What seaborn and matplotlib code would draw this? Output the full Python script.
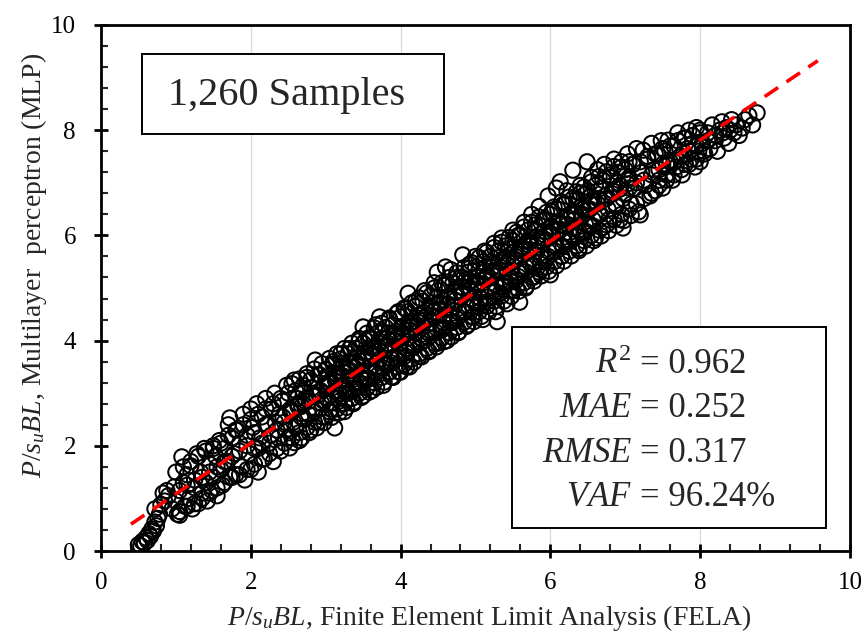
import matplotlib
matplotlib.use("Agg")
import matplotlib.pyplot as plt
import seaborn as sns
import pandas as pd
from matplotlib.patches import Rectangle
from matplotlib.ticker import MultipleLocator

# ---------------- data ----------------
# (FELA, MLP) pairs, grouped by FELA range
seg_hook = [(0.50,0.12),(0.53,0.10),(0.55,0.18),(0.58,0.15),(0.60,0.25),(0.62,0.20),(0.64,0.33),
            (0.66,0.28),(0.68,0.42),(0.70,0.38),(0.72,0.55),(0.74,0.48),(0.76,0.62),(0.78,0.70),
            (0.72,0.80),(0.80,0.88),(0.83,1.10),(0.85,0.95),(0.88,1.15),(0.90,1.05)]
seg_1 = [(0.95,0.80),(0.98,1.22),(1.00,0.95),(1.02,0.70),(1.05,0.68),(1.08,1.79),(1.10,1.30),
         (1.12,0.85),(1.15,1.45),(1.18,1.00),(1.20,1.62),(1.22,0.80),(1.25,1.20),(1.28,1.85),
         (1.30,0.90),(1.33,1.50),(1.35,1.10),(1.38,1.95),(1.40,1.30),(1.42,0.95),(1.45,1.65),
         (1.48,1.15),(1.50,2.00),(1.50,1.40)]
seg_1h = [(1.53,1.80),(1.55,1.05),(1.58,2.10),(1.60,1.55),(1.62,1.25),(1.65,1.95),(1.68,1.70),
          (1.70,2.40),(1.72,2.53),(1.72,1.40),(1.75,2.15),(1.78,1.85),(1.80,1.45),(1.82,2.30),
          (1.85,2.05),(1.88,1.60),(1.90,2.60),(1.92,1.35),(1.95,2.20),(1.98,1.85),(2.00,2.70),
          (2.00,1.55)]
seg_2 = [(2.03,2.35),(2.05,1.95),(2.08,2.80),(2.10,1.50),(2.12,2.15),(2.15,2.55),(2.18,1.75),
         (2.20,2.90),(2.22,2.40),(2.25,2.05),(2.28,2.70),(2.30,1.70),(2.32,3.00),(2.35,2.30),
         (2.38,2.60),(2.40,1.90),(2.42,2.85),(2.45,2.45),(2.48,3.15),(2.50,2.15),(2.52,1.96),
         (2.55,2.65)]
seg_2h = [(2.58,3.25),(2.60,2.35),(2.62,2.90),(2.65,2.10),(2.68,2.75),(2.70,3.05),(2.72,2.50),
          (2.75,3.30),(2.78,2.85),(2.80,2.30),(2.82,3.10),(2.85,2.65),(2.86,3.63),(2.88,2.95),
          (2.90,2.45),(2.92,3.35),(2.95,2.80),(2.98,3.15),(3.00,2.55),(3.00,3.45)]
seg_3 = [(3.02,2.90),(3.05,3.20),(3.08,2.70),(3.10,3.60),(3.12,2.34),(3.13,3.05),(3.15,3.35),
         (3.18,2.85),(3.20,3.75),(3.22,3.15),(3.25,2.65),(3.27,3.50),(3.30,3.00),(3.32,3.85),
         (3.35,3.30),(3.37,2.80),(3.40,3.60),(3.42,3.10),(3.45,4.00),(3.47,3.40),(3.50,4.26),
         (3.50,2.95)]
seg_3h = [(3.52,3.70),(3.55,3.25),(3.57,4.05),(3.60,3.50),(3.62,3.05),(3.65,3.85),(3.67,4.30),
          (3.70,3.35),(3.72,3.65),(3.75,4.15),(3.77,3.15),(3.80,3.90),(3.82,3.55),(3.85,4.40),
          (3.87,3.80),(3.90,3.30),(3.92,4.10),(3.95,3.65),(3.97,4.55),(4.00,3.95),(4.00,3.40),
          (3.72,4.45)]
seg_4 = [(4.02,4.25),(4.05,3.70),(4.07,4.60),(4.10,4.05),(4.12,3.50),(4.15,4.35),(4.17,3.90),
         (4.20,4.75),(4.22,4.15),(4.25,3.70),(4.27,4.50),(4.30,4.00),(4.32,4.95),(4.35,4.30),
         (4.37,3.80),(4.40,4.65),(4.42,4.15),(4.45,5.10),(4.47,4.45),(4.49,5.30),(4.50,3.95),
         (4.10,4.90)]
seg_4h = [(4.52,4.70),(4.55,4.20),(4.57,5.05),(4.60,4.50),(4.62,4.00),(4.65,4.85),(4.67,5.35),
          (4.70,4.35),(4.72,4.65),(4.75,5.20),(4.77,4.15),(4.80,4.95),(4.83,5.63),(4.85,4.55),
          (4.87,5.15),(4.90,4.30),(4.92,5.45),(4.95,4.80),(4.97,4.45),(5.00,5.10),(5.00,5.60),
          (4.60,5.40)]
seg_5 = [(5.02,4.65),(5.05,5.35),(5.07,4.95),(5.10,4.40),(5.12,5.70),(5.15,5.20),(5.17,4.75),
         (5.20,5.50),(5.22,5.00),(5.25,5.85),(5.27,4.55),(5.29,4.36),(5.30,5.30),(5.33,4.90),
         (5.35,5.95),(5.37,5.55),(5.40,5.10),(5.42,4.70),(5.45,5.75),(5.47,5.30),(5.50,6.10),
         (5.50,4.95)]
seg_5h = [(5.52,5.55),(5.55,5.15),(5.57,6.00),(5.59,4.73),(5.60,5.75),(5.62,5.35),(5.65,6.25),
          (5.67,5.00),(5.70,5.90),(5.72,5.50),(5.75,6.40),(5.77,5.20),(5.80,6.10),(5.82,5.70),
          (5.85,6.55),(5.87,5.35),(5.90,5.95),(5.92,6.30),(5.95,5.55),(5.97,6.75),(6.00,6.15),
          (6.00,5.25)]
seg_6 = [(6.02,6.45),(6.05,5.80),(6.08,6.90),(6.10,6.25),(6.13,7.02),(6.15,5.60),(6.18,6.60),
         (6.20,6.05),(6.22,6.85),(6.25,5.90),(6.28,6.40),(6.30,7.24),(6.32,6.15),(6.35,6.70),
         (6.38,5.75),(6.40,6.95),(6.42,6.35),(6.45,6.05),(6.47,6.80),(6.49,7.40),(6.50,6.50)]
seg_6h = [(6.53,6.20),(6.55,7.10),(6.58,6.65),(6.60,5.95),(6.63,7.25),(6.65,6.40),(6.68,6.90),
          (6.70,6.15),(6.72,7.35),(6.75,6.70),(6.78,6.30),(6.80,7.15),(6.83,6.85),(6.85,7.45),
          (6.88,6.55),(6.90,7.00),(6.93,6.30),(6.95,7.30),(6.97,6.14),(7.00,6.80)]
seg_7 = [(7.03,7.55),(7.05,7.10),(7.08,6.60),(7.10,7.35),(7.13,6.90),(7.15,7.65),(7.18,6.45),
         (7.20,6.39),(7.22,7.20),(7.24,7.62),(7.27,6.95),(7.30,7.45),(7.33,6.75),(7.35,7.75),
         (7.38,7.25),(7.40,6.85),(7.43,7.55),(7.45,7.05),(7.48,7.80),(7.50,6.90),(7.50,7.35)]
seg_7h = [(7.53,7.60),(7.55,7.15),(7.57,7.81),(7.60,7.40),(7.63,7.05),(7.65,7.70),(7.68,7.30),
          (7.70,7.95),(7.73,7.50),(7.76,7.15),(7.78,7.85),(7.80,7.35),(7.83,7.65),(7.85,8.00),
          (7.88,7.45),(7.90,7.75),(7.93,7.30),(7.95,8.05),(7.98,7.60),(8.00,8.00),(8.00,7.40)]
seg_8 = [(8.03,7.75),(8.06,7.55),(8.10,7.95),(8.13,7.65),(8.16,8.10),(8.20,7.80),(8.23,7.60),
         (8.26,8.00),(8.29,8.16),(8.32,7.85),(8.35,8.05),(8.38,7.75),(8.42,8.20),(8.45,7.95),
         (8.48,8.10),(8.52,7.90),(8.56,8.04),(8.60,8.20),(8.65,8.28),(8.70,8.10),(8.76,8.33)]
seg_core = [(2.05,2.25),(2.10,1.95),(2.15,2.05),(2.20,2.40),(2.27,2.20),(2.33,2.45),(2.37,2.15),
            (2.43,2.55),(2.47,2.30),(2.53,2.70),(2.57,2.45),(2.63,2.80),(2.67,2.55),(2.73,2.90),
            (2.77,2.60),(2.83,3.00),(2.87,2.70),(2.93,3.05),(2.97,2.85),(3.03,3.20),(3.07,2.95),
            (3.13,3.30),(3.17,3.00),(3.23,3.40),(3.27,3.10),(3.33,3.50),(3.37,3.20),(3.43,3.55),
            (3.47,3.30),(3.53,3.65),(3.57,3.40),(3.63,3.75),(3.67,3.50),(3.73,3.85),(3.77,3.60),
            (3.83,3.95),(3.87,3.65),(3.93,4.05),(3.97,3.75),(4.03,4.15),(4.07,3.85),(4.13,4.25),
            (4.17,3.95),(4.23,4.35),(4.27,4.05),(4.33,4.45),(4.37,4.15),(4.43,4.55),(4.47,4.25),
            (4.53,4.60),(4.57,4.35),(4.63,4.70),(4.67,4.45),(4.73,4.85),(4.77,4.55),(4.83,4.90),
            (4.87,4.65),(4.93,5.00),(4.97,4.75),(5.03,5.10),(5.07,4.80),(5.13,5.20),(5.17,4.95),
            (5.23,5.30),(5.27,5.05),(5.33,5.40),(5.37,5.10),(5.43,5.50),(5.47,5.20),(5.53,5.60),
            (5.57,5.30),(5.63,5.70),(5.67,5.40),(5.73,5.80),(5.77,5.50),(5.83,5.90),(5.87,5.60),
            (5.93,6.00),(5.97,5.70),(6.03,6.10),(6.07,5.80),(6.13,6.20),(6.17,5.90),(6.23,6.30),
            (6.27,6.00),(6.33,6.40),(6.37,6.10),(6.43,6.50),(6.47,6.20),(6.53,6.60),(6.57,6.30),
            (6.63,6.70),(6.67,6.40),(6.73,6.75),(6.77,6.50),(6.83,6.85),(6.87,6.60),(6.93,6.95),
            (6.97,6.70),(7.03,7.05)]
seg_mid = [(1.00,1.50),(1.05,0.75),(1.10,1.60),(1.15,0.85),(1.20,1.70),(1.25,0.90),(1.30,1.80),
           (1.35,1.00),(1.40,1.90),(1.45,1.10),(1.50,1.95),(1.55,1.20),(1.60,2.05),(1.65,1.30),
           (1.70,2.20),(1.75,1.40),(1.80,2.30),(1.85,1.45),(1.90,2.40),(1.95,1.55),(2.00,2.50),
           (2.05,1.65),(2.10,2.60),(2.15,1.75),(2.20,2.70),(2.25,1.85),(2.30,2.80),(2.35,1.95),
           (2.40,2.90),(2.45,2.05),(2.50,3.00),(2.55,2.15),(2.60,3.05),(2.65,2.25),(2.70,3.15),
           (2.75,2.35),(2.80,3.25),(2.85,2.45),(2.90,3.35),(2.95,2.55),(3.00,3.45),(3.05,2.65),
           (3.10,3.55),(3.15,2.70),(3.20,3.65),(3.25,2.80),(3.30,3.75),(3.35,2.90),(3.40,3.85),
           (3.45,3.00),(3.50,3.95),(3.55,3.10),(3.60,4.05),(3.65,3.20),(3.70,4.15),(3.75,3.30),
           (3.80,4.25),(3.85,3.40),(3.90,4.30),(3.95,3.50),(4.00,4.45),(4.05,3.55),(4.10,4.55),
           (4.15,3.65),(4.20,4.65),(4.25,3.75),(4.30,4.75),(4.35,3.85),(4.40,4.85),(4.45,3.95),
           (4.50,4.95),(4.55,4.05),(4.60,5.05),(4.65,4.15),(4.70,5.10),(4.75,4.25),(4.80,5.20),
           (4.85,4.35),(4.90,5.30),(4.95,4.45),(5.00,5.40),(5.05,4.55),(5.10,5.50),(5.15,4.65),
           (5.20,5.60),(5.25,4.75),(5.30,5.70),(5.35,4.85),(5.40,5.80),(5.45,4.95),(5.50,5.90),
           (5.55,5.00),(5.60,6.00),(5.65,5.10),(5.70,6.10),(5.75,5.20),(5.80,6.20),(5.85,5.30),
           (5.90,6.30),(5.95,5.40),(6.00,6.40),(6.05,5.50),(6.10,6.50),(6.15,5.60),(6.20,6.60),
           (6.25,5.70),(6.30,6.70),(6.35,5.80),(6.40,6.80),(6.45,5.90),(6.50,6.85),(6.55,6.00),
           (6.60,6.95),(6.65,6.10),(6.70,7.05),(6.75,6.20),(6.80,7.10),(6.85,6.30),(6.90,7.20),
           (6.95,6.40),(7.00,7.25),(7.05,6.50),(7.10,7.35),(7.15,6.60),(7.20,7.40),(7.25,6.70),
           (7.30,7.50),(7.35,6.80),(7.40,7.55),(7.45,6.95),(7.50,7.65),(7.55,7.05),(7.60,7.70),
           (7.65,7.15),(7.70,7.80),(7.75,7.25),(7.80,7.85),(7.85,7.35),(7.90,7.90),(7.95,7.45),
           (8.00,7.95),(8.05,7.60)]
seg_line = [(1.05,1.15),(1.15,1.25),(1.25,1.35),(1.35,1.40),(1.45,1.50),(1.55,1.60),(1.65,1.70),
            (1.75,1.80),(1.85,1.90),(1.95,2.00),(7.05,6.90),(7.15,7.00),(7.25,7.05),(7.35,7.15),
            (7.45,7.25),(7.55,7.35),(7.65,7.40),(7.75,7.50),(7.85,7.60),(7.95,7.70),(8.10,7.80),
            (8.20,7.90),(8.30,7.95),(8.40,8.00)]
seg_dense = [(3.02,3.27),(3.07,2.81),(3.12,3.37),(3.17,2.90),(3.22,3.47),(3.27,3.00),(3.32,3.56),
             (3.37,3.10),(3.42,3.66),(3.47,3.19),(3.52,3.76),(3.57,3.29),(3.62,3.85),(3.67,3.39),
             (3.72,3.95),(3.77,3.48),(3.82,4.04),(3.87,3.58),(3.92,4.14),(3.97,3.68),(4.02,4.24),
             (4.07,3.77),(4.12,4.33),(4.17,3.87),(4.22,4.43),(4.27,3.96),(4.32,4.53),(4.37,4.06),
             (4.42,4.62),(4.47,4.16),(4.52,4.72),(4.57,4.25),(4.62,4.81),(4.67,4.35),(4.72,4.91),
             (4.77,4.45),(4.82,5.01),(4.87,4.54),(4.92,5.10),(4.97,4.64),(5.02,5.20),(5.07,4.73),
             (5.12,5.30),(5.17,4.83),(5.22,5.39),(5.27,4.93),(5.32,5.49),(5.37,5.02),(5.42,5.58),
             (5.47,5.12),(5.52,5.68),(5.57,5.22),(5.62,5.78),(5.67,5.31),(5.72,5.87),(5.77,5.41),
             (5.82,5.97),(5.87,5.50),(5.92,6.07),(5.97,5.60),(6.02,6.16),(6.07,5.70),(6.12,6.26),
             (6.17,5.79),(6.22,6.35),(6.27,5.89),(6.32,6.45),(6.37,5.99),(6.42,6.55),(6.47,6.08),
             (6.52,6.64),(6.57,6.18)]
seg_fill = [(2.53,2.66),(2.58,2.06),(2.55,3.18),(2.63,2.75),(2.68,2.15),(2.65,3.27),
            (2.73,2.85),(2.78,2.25),(2.75,3.37),(2.83,2.95),(2.88,2.34),(2.85,3.46),
            (2.93,3.04),(2.98,2.44),(2.95,3.56),(3.03,3.14),(3.08,2.54),(3.05,3.66),
            (3.13,3.24),(3.18,2.63),(3.15,3.75),(3.23,3.33),(3.28,2.73),(3.25,3.85),
            (3.33,3.43),(3.38,2.83),(3.35,3.95),(3.43,3.52),(3.48,2.92),(3.45,4.04),
            (3.53,3.62),(3.58,3.02),(3.55,4.14),(3.63,3.72),(3.68,3.11),(3.65,4.24),
            (3.73,3.81),(3.78,3.21),(3.75,4.33),(3.83,3.91),(3.88,3.31),(3.85,4.43),
            (3.93,4.00),(3.98,3.40),(3.95,4.52),(4.03,4.10),(4.08,3.50),(4.05,4.62),
            (4.13,4.20),(4.18,3.59),(4.15,4.72),(4.23,4.29),(4.28,3.69),(4.25,4.81),
            (4.33,4.39),(4.38,3.79),(4.35,4.91),(4.43,4.48),(4.48,3.88),(4.45,5.00),
            (4.53,4.58),(4.58,3.98),(4.55,5.10),(4.63,4.68),(4.68,4.07),(4.65,5.20),
            (4.73,4.77),(4.78,4.17),(4.75,5.29),(4.83,4.87),(4.88,4.27),(4.85,5.39),
            (4.93,4.96),(4.98,4.36),(4.95,5.48),(5.03,5.06),(5.08,4.46),(5.05,5.58),
            (5.13,5.16),(5.18,4.55),(5.15,5.68),(5.23,5.25),(5.28,4.65),(5.25,5.77),
            (5.33,5.35),(5.38,4.75),(5.35,5.87),(5.43,5.44),(5.48,4.84),(5.45,5.96),
            (5.53,5.54),(5.58,4.94),(5.55,6.06),(5.63,5.64),(5.68,5.03),(5.65,6.16),
            (5.73,5.73),(5.78,5.13),(5.75,6.25),(5.83,5.83),(5.88,5.23),(5.85,6.35),
            (5.93,5.92),(5.98,5.32),(5.95,6.44),(6.03,6.02),(6.08,5.42),(6.05,6.54),
            (6.13,6.12),(6.18,5.51),(6.15,6.64),(6.23,6.21),(6.28,5.61),(6.25,6.73),
            (6.33,6.31),(6.38,5.71),(6.35,6.83),(6.43,6.40),(6.48,5.80),(6.45,6.92),
            (6.53,6.50),(6.58,5.90),(6.55,7.02),(6.63,6.60),(6.68,5.99),(6.65,7.12),
            (6.73,6.69),(6.78,6.09),(6.75,7.21),(6.83,6.79),(6.88,6.19),(6.85,7.31),
            (6.93,6.88),(6.98,6.28),(6.95,7.40),(7.03,6.98),(7.08,6.38),(7.05,7.40)]

segments = [seg_hook, seg_1, seg_1h, seg_2, seg_2h, seg_3, seg_3h, seg_4, seg_4h,
            seg_5, seg_5h, seg_6, seg_6h, seg_7, seg_7h, seg_8, seg_core, seg_mid,
            seg_line, seg_dense, seg_fill]

# trend line end points (FELA, MLP)
fit_x = [0.40, 9.57]
fit_y = [0.51, 9.32]

sample_label = "1,260 Samples"
metric_names = [r"$R^{2}$", r"$MAE$", r"$RMSE$", r"$VAF$"]
metric_values = ["= 0.962", "= 0.252", "= 0.317", "= 96.24%"]

# ---------------- build table ----------------
rows = [p for seg in segments for p in seg]
df = pd.DataFrame(rows, columns=["FELA", "MLP"])

# ---------------- style ----------------
sns.set_style("white")
plt.rcParams["font.family"] = ["Liberation Serif", "DejaVu Serif"]
plt.rcParams["mathtext.fontset"] = "custom"
plt.rcParams["mathtext.rm"] = "Liberation Serif"
plt.rcParams["mathtext.it"] = "Liberation Serif:italic"
plt.rcParams["mathtext.bf"] = "Liberation Serif:bold"

fig = plt.figure(figsize=(8.66, 6.41), dpi=100)
ax = fig.add_axes([0.1166, 0.1404, 0.8649, 0.8206])

sns.scatterplot(data=df, x="FELA", y="MLP", ax=ax, marker="o", s=120,
                facecolor="none", edgecolor="black", linewidth=1.45, zorder=3,
                legend=False)
sns.lineplot(x=fit_x, y=fit_y, ax=ax, color="#ff0000", linewidth=2.6,
             dashes=False, zorder=4)
ax.lines[-1].set_dashes([4.5, 2.8])

ax.set_xlim(0, 10)
ax.set_ylim(0, 10)
ax.xaxis.set_major_locator(MultipleLocator(2))
ax.yaxis.set_major_locator(MultipleLocator(2))
ax.xaxis.set_minor_locator(MultipleLocator(0.4))
ax.yaxis.set_minor_locator(MultipleLocator(0.4))
ax.grid(axis="x", which="major", color="#d9d9d9", linewidth=0.9, zorder=0)
ax.grid(axis="y", visible=False)
ax.set_axisbelow(True)

for sp in ax.spines.values():
    sp.set_visible(True)
    sp.set_color("black")
    sp.set_linewidth(2.0)

ax.tick_params(axis="both", which="major", direction="inout", length=10, width=2,
               labelsize=18, colors="black", bottom=True, left=True, top=False, right=False)
ax.tick_params(axis="both", which="minor", direction="in", length=5, width=1.5,
               bottom=True, left=True, top=False, right=False)
ax.tick_params(axis="x", which="major", pad=10)
ax.tick_params(axis="y", which="major", pad=13)

ax.set_xlabel(r"$P/s_{u}BL$, Finite Element Limit Analysis (FELA)", fontsize=20)
ax.set_ylabel(r"$P/s_{u}BL$, Multilayer  perceptron (MLP)", fontsize=20)
ax.xaxis.set_label_coords(0.518, -0.098)
ax.yaxis.set_label_coords(-0.07, 0.542)

# sample-count box
ax.add_patch(Rectangle((0.0547, 0.792), 0.4033, 0.153, transform=ax.transAxes,
                       fill=True, facecolor="white", edgecolor="black", linewidth=1.4, zorder=5))
ax.text(0.2477, 0.847, sample_label, transform=ax.transAxes, ha="center", va="baseline",
        fontsize=29, zorder=6)

# metrics box
ax.add_patch(Rectangle((0.549, 0.044), 0.419, 0.382, transform=ax.transAxes,
                       fill=True, facecolor="white", edgecolor="black", linewidth=1.4, zorder=5))
ys = [0.338, 0.254, 0.170, 0.086]
for name, val, yy in zip(metric_names, metric_values, ys):
    ax.text(0.709, yy, name, transform=ax.transAxes, ha="right", va="baseline",
            fontsize=25, zorder=6)
    ax.text(0.720, yy, val, transform=ax.transAxes, ha="left", va="baseline",
            fontsize=25, zorder=6)

fig.savefig("out.png", dpi=100)
